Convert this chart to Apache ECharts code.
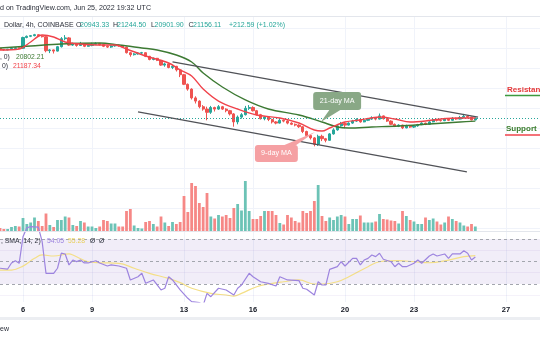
<!DOCTYPE html>
<html>
<head>
<meta charset="utf-8">
<script src="https://cdn.jsdelivr.net/npm/echarts@6.0.0/dist/echarts.min.js"></script>
<style>
html,body{margin:0;padding:0;background:#ffffff;}
#chart{width:540px;height:340px;}
</style>
</head>
<body>
<div id="chart"></div>
<script>
// ---- data: x = 4h candle index counted from Jun 5, 2022 00:00 UTC ----
const opens = [29900,29750,29700,29780,29880,29960,29900,31250,31400,31480,
31600,31450,31350,29600,29700,29550,30100,31100,31200,30300,
30450,30250,30500,30150,30250,30400,30500,30350,30150,30050,
30200,30300,30200,30050,29350,29100,29200,29300,29350,28900,
28500,28650,28400,27800,27950,27500,27650,27200,26600,25400,
24800,23700,23300,22600,22300,21900,22500,22300,22600,22300,
22100,21700,20700,21300,21600,22400,22500,22100,21600,21100,
21300,21000,20700,20550,20900,20800,20550,20400,20300,20100,
19500,19000,18700,17900,18900,18600,18400,19200,19700,20200,
20500,20300,20550,20800,21000,20700,20900,21050,21200,21050,
21450,21100,20800,20400,20150,20300,19950,20250,20050,20200,
20350,20550,20400,20700,21000,20900,20850,21050,20900,21150,
21050,21250,21400,21300,20943.33];
const closes = [29750,29700,29780,29880,29960,29900,31250,31400,31480,31600,
31450,31350,29600,29700,29550,30100,31100,31200,30300,30450,
30250,30500,30150,30250,30400,30500,30350,30150,30050,30200,
30300,30200,30050,29350,29100,29200,29300,29350,28900,28500,
28650,28400,27800,27950,27500,27650,27200,26600,25400,24800,
23700,23300,22600,22300,21900,22500,22300,22600,22300,22100,
21700,20700,21300,21600,22400,22500,22100,21600,21100,21300,
21000,20700,20550,20900,20800,20550,20400,20300,20100,19500,
19000,18700,17900,18900,18600,18400,19200,19700,20200,20500,
20300,20550,20800,21000,20700,20900,21050,21200,21050,21450,
21100,20800,20400,20150,20300,19950,20250,20050,20200,20350,
20550,20400,20700,21000,20900,20850,21050,20900,21150,21050,
21250,21400,21300,20943.33,21156.11];
const lows = [29700,29620,29650,29740,29850,29850,29850,31150,31300,31400,
31350,31250,29400,29300,29250,29500,30000,30900,30200,30200,
30100,30200,30050,30100,30150,30350,30250,30050,29950,29950,
30100,30100,29950,29250,28850,29000,29100,29150,28800,28400,
28400,28300,27700,27600,27400,27300,27000,26300,25300,24600,
23500,23000,22400,22100,20900,21700,22000,22200,22200,21900,
21500,20100,20400,21100,21500,22200,22000,21500,21000,20900,
20800,20500,20400,20500,20650,20400,20300,20150,19950,19300,
18850,18500,17650,17700,18300,18150,18350,19100,19600,20100,
19900,20250,20450,20700,20600,20650,20800,20950,20900,21000,
21000,20700,20300,20050,20050,19800,19900,19950,19950,20100,
20300,20300,20350,20650,20750,20750,20800,20800,20850,20950,
21000,21200,21200,20900,20901.90];
const highs = [29950,29800,29830,29920,30050,30000,31350,31500,31550,31700,
31650,31500,31400,29800,29750,30200,31300,31550,31300,30600,
30500,30700,30550,30350,30600,30650,30550,30400,30250,30300,
30400,30350,30250,30100,29450,29300,29400,29450,29400,28950,
28750,28700,28450,28100,28000,27800,27700,27250,26700,25500,
24900,23900,23400,22800,22600,22700,22600,22800,22700,22400,
22200,21800,21500,21800,22700,22800,22650,22200,21700,21400,
21350,21100,20800,21100,21000,20900,20650,20500,20400,20150,
19600,19100,18800,19100,19100,18700,19300,19900,20400,20700,
20700,20650,20950,21150,21050,21050,21200,21400,21300,21750,
21500,21200,20900,20500,20400,20350,20350,20300,20300,20450,
20650,20600,20800,21100,21100,21000,21200,21150,21300,21250,
21450,21700,21500,21350,21244.50];
const volumes = [3,2,2,4,5,4.5,13,7,8.5,13.5,
10,5,17.5,6,4,11,11,14.5,13.5,6,
5,10,8.5,4.5,4.5,3,4.5,11,10,7.5,
7.5,4.5,4.5,20,22,5.5,3,2.5,9,10,
7,4.5,14.5,8.5,5,9,7,9,35,19,
48,45,28,24,38,14.5,12.5,16,14.5,16,
13,23,27,20.5,50,20,12,12,15,20,
20,20,16,8,6.5,16,13.5,10,8.5,20,
18,20,30,46,15,10,13.5,11,14.5,16,
14.5,7,12,12,15.5,8.5,8.5,8.5,9.5,17,
12,11.5,10.5,10,7.5,20,15,11,9.5,7,
7,13.5,11,12.5,9.5,6.5,8.5,14.5,12,10,
8.5,5.5,4.5,7,4.5];

const ma9Idx = [0,5,8,11,14,17,21,26,30,33,38,44,47,50,53,57,62,67,73,78,82,84,86,90,94,99,103,107,111,115,120,124];
const ma9Val = [29690,29810,30690,31560,31310,30690,30440,30310,30310,29810,28940,28060,27190,26440,24810,23310,22310,21560,21190,20560,19690,19560,19940,20690,20940,21310,21060,20690,20810,21060,21190,21187.34];
const ma21Idx = [0,8,16,26,31,37,41,46,50,53,58,64,70,78,84,88,91,97,104,112,120,124];
const ma21Val = [29940,30190,30440,30560,30310,29940,29690,29060,28190,26810,25060,23440,22310,21560,20690,20060,19940,20060,20190,20440,20690,20802.21];

const rsiIdx = [0,2,3,4,5,6,7,8,10,11,12,14,15,16,17,18,19,20,21,22,23,25,26,28,29,31,33,34,36,37,38,40,42,43,44,45,47,49,50,52,53,54,55,57,59,61,62,63,65,66,68,70,72,73,75,78,79,80,82,83,84,85,86,88,89,90,92,93,94,95,96,97,98,99,100,102,103,104,105,106,108,109,110,112,113,114,116,117,118,120,121,122,123,124];
const rsiVal = [44,43.3,48.7,50.7,48.4,72,80,81,80.5,67.6,39.5,39.5,44,57.5,56.7,46.9,51.3,49.9,51.3,48.7,48.7,50.7,48.7,46,47,46,44,33.6,36.5,39.5,30.6,33.6,24.7,26.2,36.5,33.6,24.7,17.3,14.3,13.5,11,21.7,18.7,26.2,24.7,20.2,26.2,29.1,39.5,36.5,32,30.6,28.2,36.5,33.6,33,26.2,25.3,20.2,32,29.1,29.1,43,45.4,49.8,46,52.8,52.8,46.9,51.3,52.8,55.8,54.3,57.3,52,49.8,45.4,48.4,45.4,45.4,48.4,51.3,48.4,54.9,56.7,54.9,56.7,52.8,56.7,56.7,59.6,57.3,51.3,54.05];
const rsiMaIdx = [0,3,6,9,11,14,18,19,23,26,31,35,39,44,47,50,55,59,61,63,67,70,74,78,82,84,88,91,96,99,104,108,112,117,121,124];
const rsiMaVal = [42.4,42.4,45.9,52.8,55.8,54.9,56.7,55.8,49.8,48.9,48.4,44,39.5,35,31.2,26.2,21.7,20.2,19.3,21.7,27.6,30,32,33.6,30,30,32,36.5,45.4,49.8,50.7,49.8,48.9,51.3,54.3,55.28];

const trendUpper = [[45, 28190], [124.7, 21310]];
const trendLower = [[36, 21940], [121.8, 14440]];

const tickIdx = [6, 24, 48, 66, 90, 108, 132];
const tickLabels = ['6', '9', '13', '16', '20', '23', '27'];
const rsiLevels = [70, 50, 30];
const rsiGridLevels = [20, 40, 60];
const lastClose = 21156.11;

const ann21 = {text: '21-day MA', box: [81.7, 24440, 94.2, 22190], base: [86.1, 89.2], tip: [83.7, 20690]};
const ann9 = {text: '9-day MA', box: [66.5, 17810, 77.7, 15690], base: [73.6, 76.9], tip: [82.2, 19440]};

// ---- chart ----
const UP = '#26a69a', DN = '#ef5350';
const UPV = '#6cc3b6', DNV = '#f68886';
const GRIDC = '#f0f3fa';
const FONT = '"Liberation Sans", Arial, sans-serif';
const X_MAX = 540 / (23 / 6);

const chart = echarts.init(document.getElementById('chart'), null, {renderer: 'canvas'});

function xAx(gridIndex, withLabels) {
  return {
    type: 'value', gridIndex, min: 0, max: X_MAX,
    axisLine: {show: false},
    axisTick: {show: false, customValues: tickIdx},
    splitLine: {show: true, lineStyle: {color: GRIDC, width: 1}},
    axisLabel: withLabels ? {
      show: true, customValues: tickIdx, margin: 4,
      formatter: v => tickLabels[tickIdx.indexOf(v)] || '',
      color: '#131722', fontSize: 7.5, fontWeight: 'bold', fontFamily: FONT
    } : {show: false}
  };
}

const candleData = opens.map((o, i) => [i, o, closes[i], lows[i], highs[i]]);
const volData = volumes.map((v, i) => ({value: [i, v], itemStyle: {color: closes[i] >= opens[i] ? UPV : DNV}}));

const option = {
  animation: false,
  backgroundColor: '#ffffff',
  grid: [
    {left: 0, right: 0, top: 16, height: 212, outerBoundsMode: 'none'},
    {left: 0, right: 0, top: 171, height: 60, outerBoundsMode: 'none'},
    {left: 0, right: 0, top: 224, height: 78, outerBoundsMode: 'none'}
  ],
  xAxis: [xAx(0, false), xAx(1, false), xAx(2, true)],
  yAxis: [
    {type: 'value', gridIndex: 0, min: 7437.5, max: 33937.5, interval: 2500, axisLine: {show: false}, axisTick: {show: false}, axisLabel: {show: false}, splitLine: {show: true, lineStyle: {color: GRIDC}}},
    {type: 'value', gridIndex: 1, min: 0, max: 60, axisLine: {show: false}, axisTick: {show: false}, axisLabel: {show: false}, splitLine: {show: false}},
    {type: 'value', gridIndex: 2, min: 14, max: 83.333, axisLine: {show: false}, axisTick: {show: false}, axisLabel: {show: false}, splitLine: {show: false}}
  ],
  series: [
    {
      type: 'bar', xAxisIndex: 1, yAxisIndex: 1, data: volData, barWidth: 2.8, z: 1, silent: true
    },
    {
      type: 'candlestick', xAxisIndex: 0, yAxisIndex: 0, data: candleData,
      encode: {x: 0, y: [1, 2, 3, 4]}, barWidth: 2.6, z: 3,
      itemStyle: {color: UP, color0: DN, borderColor: UP, borderColor0: DN, borderWidth: 1},
      markLine: {
        silent: true, symbol: 'none', label: {show: false},
        lineStyle: {color: UP, type: [1, 2], width: 1},
        data: [{yAxis: lastClose}]
      }
    },
    {
      type: 'line', xAxisIndex: 0, yAxisIndex: 0, data: ma21Idx.map((x, i) => [x, ma21Val[i]]),
      smooth: 0.35, showSymbol: false, z: 4, lineStyle: {color: '#3d7a33', width: 1.4}
    },
    {
      type: 'line', xAxisIndex: 0, yAxisIndex: 0, data: ma9Idx.map((x, i) => [x, ma9Val[i]]),
      smooth: 0.35, showSymbol: false, z: 5, lineStyle: {color: '#f0434b', width: 1.4}
    },
    {
      type: 'line', xAxisIndex: 0, yAxisIndex: 0, data: trendUpper, showSymbol: false, z: 6,
      lineStyle: {color: '#505257', width: 1.3}
    },
    {
      type: 'line', xAxisIndex: 0, yAxisIndex: 0, data: trendLower, showSymbol: false, z: 6,
      lineStyle: {color: '#505257', width: 1.3}
    },
    {
      type: 'line', xAxisIndex: 2, yAxisIndex: 2, data: rsiMaIdx.map((x, i) => [x, rsiMaVal[i]]),
      smooth: 0.4, showSymbol: false, z: 4, lineStyle: {color: '#f4df86', width: 1.2},
      markArea: {silent: true, itemStyle: {color: 'rgba(126,87,194,0.11)'}, data: [[{yAxis: rsiLevels[2]}, {yAxis: rsiLevels[0]}]]},
      markLine: {
        silent: true, symbol: 'none', label: {show: false},
        lineStyle: {color: 'rgba(126,87,194,0.08)', type: 'solid', width: 1},
        data: rsiGridLevels.map(v => ({yAxis: v}))
      }
    },
    {
      type: 'line', xAxisIndex: 2, yAxisIndex: 2, data: rsiIdx.map((x, i) => [x, rsiVal[i]]),
      showSymbol: false, z: 5, lineStyle: {color: '#9d84df', width: 1.2},
      markLine: {
        silent: true, symbol: 'none', label: {show: false},
        lineStyle: {color: '#a3a6ae', type: [3, 3], width: 1},
        data: rsiLevels.map(v => ({yAxis: v}))
      }
    }
  ]
};
chart.setOption(option);

function px(p) { return chart.convertToPixel({gridIndex: 0}, p); }
function callout(a, color, onBottom) {
  const p0 = px([a.box[0], a.box[1]]), p1 = px([a.box[2], a.box[3]]);
  const bx = Math.min(p0[0], p1[0]), by = Math.min(p0[1], p1[1]);
  const bw = Math.abs(p1[0] - p0[0]), bh = Math.abs(p1[1] - p0[1]);
  const yEdge = onBottom ? by + bh - 1 : by + 1;
  const b0 = px([a.base[0], a.box[1]])[0], b1 = px([a.base[1], a.box[1]])[0];
  const t = px(a.tip);
  return [
    {type: 'polygon', z: 100, shape: {points: [[b0, yEdge], [b1, yEdge], t]}, style: {fill: color}},
    {type: 'rect', z: 100, shape: {x: bx, y: by, width: bw, height: bh, r: 3}, style: {fill: color}},
    {type: 'text', z: 101, x: bx + bw / 2, y: by + bh / 2, style: {text: a.text, fill: '#ffffff', fontSize: 7.2, fontFamily: FONT, align: 'center', verticalAlign: 'middle'}}
  ];
}
function txt(x, y, text, color, size, weight) {
  return {type: 'text', z: 110, x, y, style: {text, fill: color, fontSize: size || 7, fontFamily: FONT, fontWeight: weight || 'normal', align: 'left', verticalAlign: 'middle'}};
}
function hline(x1, x2, y, color, w) {
  return {type: 'line', z: 90, shape: {x1, y1: y, x2, y2: y}, style: {stroke: color, lineWidth: w || 1}};
}

const g = [];
g.push(hline(0, 540, 16.5, '#e3e6ec', 1));
g.push(hline(0, 540, 231.5, '#e3e6ec', 1));
g.push({type: 'rect', z: 90, shape: {x: 0, y: 317, width: 540, height: 3}, style: {fill: '#eceef2'}});
g.push(txt(0, 8.5, 'd on TradingView.com, Jun 25, 2022 19:32 UTC', '#2a2e39', 7.1));
g.push(txt(4, 25, 'Dollar, 4h, COINBASE', '#2a2e39', 7));
g.push(txt(76, 25, 'O', '#2a2e39', 7)); g.push(txt(80, 25, '20943.33', UP, 7));
g.push(txt(113, 25, 'H', '#2a2e39', 7)); g.push(txt(117, 25, '21244.50', UP, 7));
g.push(txt(151, 25, 'L', '#2a2e39', 7)); g.push(txt(154.5, 25, '20901.90', UP, 7));
g.push(txt(188.5, 25, 'C', '#2a2e39', 7)); g.push(txt(193, 25, '21156.11', UP, 7));
g.push(txt(229, 25, '+212.59 (+1.02%)', UP, 7));
g.push(txt(0, 57, ', 0)', '#2a2e39', 6.8)); g.push(txt(16, 57, '20802.21', '#3d7a33', 6.8));
g.push(txt(2, 66, '0)', '#2a2e39', 6.8)); g.push(txt(13, 66, '21187.34', '#f0434b', 6.8));
g.push(txt(1, 241, ', SMA, 14, 2)', '#2a2e39', 6.8));
g.push(txt(47, 241, '54.05', '#9d84df', 6.8));
g.push(txt(68, 241, '55.28', '#e8cf5c', 6.8));
g.push(txt(90, 241, 'Ø', '#2a2e39', 6.8)); g.push(txt(99, 241, 'Ø', '#2a2e39', 6.8));
g.push(txt(0, 329, 'ew', '#2a2e39', 7));
g.push(txt(507, 90, 'Resistance', '#e53939', 8, 'bold'));
g.push(hline(505, 540, 95.5, '#3d9a3f', 1.5));
g.push(txt(506, 129, 'Support', '#3a7d2c', 8, 'bold'));
g.push(hline(505, 540, 135, '#f0434b', 1.5));
callout(ann21, '#89a886', true).forEach(e => g.push(e));
callout(ann9, '#f5a0a3', false).forEach(e => g.push(e));

chart.setOption({graphic: g});
</script>
</body>
</html>
